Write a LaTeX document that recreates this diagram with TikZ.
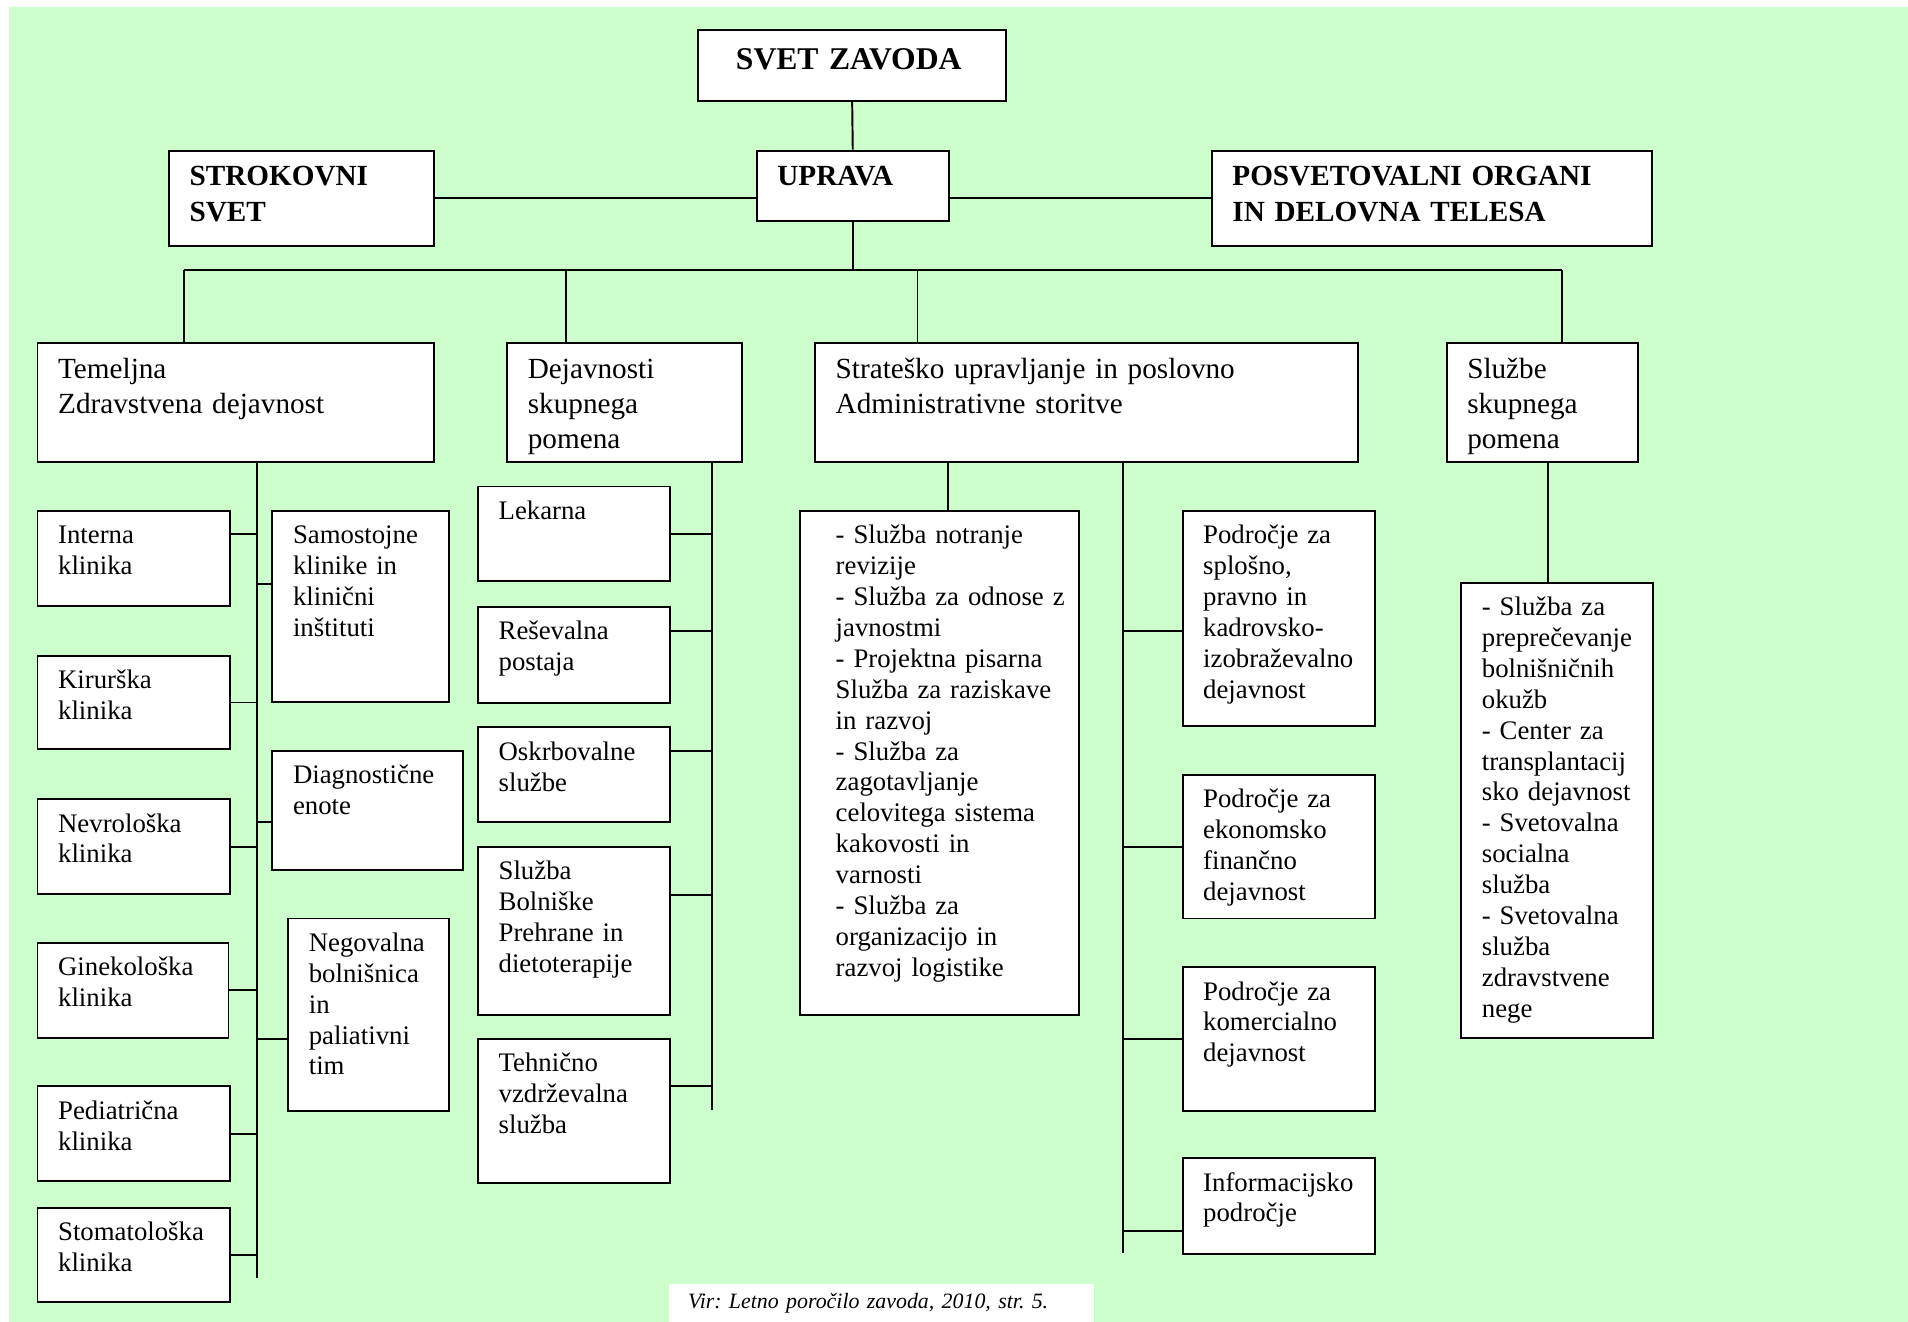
\documentclass[tikz,border=0pt]{standalone}
\usepackage{fontspec}
\setmainfont{Liberation Serif}
\usepackage{xcolor}
\usepackage{tikz}
\definecolor{bggreen}{HTML}{CCFFCC}
\tikzstyle{cell} = [rectangle, anchor=north west, draw=black, fill=white, line width=0.8pt, align=left, inner xsep=2pt, inner ysep=4.5pt, text height=9pt, font=\fontsize{11pt}{12.7pt}\selectfont, execute at begin node={\leftskip=6.5pt\relax\hyphenpenalty=10000\exhyphenpenalty=10000\relax}]
\tikzstyle{unit} = [cell, text height=10pt, font=\fontsize{12pt}{14.5pt}\selectfont]
\tikzstyle{head} = [unit, font=\fontsize{12pt}{14.5pt}\selectfont\bfseries]
\tikzstyle{source} = [rectangle, anchor=north west, fill=white, inner xsep=8pt, inner ysep=0pt, minimum height=15.5pt, text width=159pt, align=left, font=\fontsize{9pt}{10pt}\selectfont\itshape\frenchspacing]
\tikzstyle{conn} = [line width=0.8pt]

\begin{document}
\begin{tikzpicture}[x=0.5pt, y=-0.5pt]
    \useasboundingbox (0,0) rectangle (1568,1086);
    \fill [bggreen] (7,6) rectangle (1568,1086);
    \node (SvetZavoda) [head, text width=122.5pt, text height=11.5pt, text depth=8.5pt, font=\fontsize{13pt}{14.5pt}\selectfont\bfseries, execute at begin node={\leftskip=13.5pt}] at (573,24) {SVET ZAVODA};
    \node (StrokovniSvet) [head, text width=105pt, text depth=20pt] at (138,123) {STROKOVNI\\SVET};
    \node (Uprava) [head, text width=75pt, text depth=10pt] at (621,123) {UPRAVA};
    \node (Posvet) [head, text width=177pt, text depth=20pt] at (995,123) {POSVETOVALNI ORGANI\\IN DELOVNA TELESA};
    \node (Temeljna) [unit, text width=159pt, text depth=30pt] at (30,281) {Temeljna\\Zdravstvena dejavnost};
    \node (Dejavnosti) [unit, text width=92.5pt, text depth=30pt] at (416,281) {Dejavnosti\\skupnega\\pomena};
    \node (Strategija) [unit, text width=219pt, text depth=30pt] at (669,281) {Strateško upravljanje in poslovno\\Administrativne storitve};
    \node (Sluzbe) [unit, text width=74.5pt, text depth=30pt] at (1188,281) {Službe\\skupnega\\pomena};
    \node (Interna) [cell, text width=75pt, text depth=21pt] at (30,419) {Interna\\klinika};
    \node (Kirurska) [cell, text width=75pt, text depth=20.5pt] at (30,538) {Kirurška\\klinika};
    \node (Nevroloska) [cell, text width=75pt, text depth=21pt] at (30,656) {Nevrološka\\klinika};
    \node (Ginekoloska) [cell, text width=74.5pt, text depth=21pt] at (30,774) {Ginekološka\\klinika};
    \node (Pediatricna) [cell, text width=75pt, text depth=21pt] at (30,892) {Pediatrična\\klinika};
    \node (Stomatoloska) [cell, text width=75pt, text depth=20.5pt] at (30,992) {Stomatološka\\klinika};
    \node (Samostojne) [cell, text width=68.5pt, text depth=60.5pt] at (223,419) {Samostojne\\klinike in\\klinični\\inštituti};
    \node (Diagnosticne) [cell, text width=74.5pt, text depth=31pt] at (223,616) {Diagnostične\\enote};
    \node (Negovalna) [cell, text width=62pt, text depth=61pt] at (236,754) {Negovalna\\bolnišnica\\in\\paliativni\\tim};
    \node (Lekarna) [cell, text width=75pt, text depth=21pt] at (392,399) {Lekarna};
    \node (Resevalna) [cell, text width=75pt, text depth=21.5pt] at (392,498) {Reševalna\\postaja};
    \node (Oskrbovalne) [cell, text width=75pt, text depth=21pt] at (392,597) {Oskrbovalne\\službe};
    \node (Prehrana) [cell, text width=75pt, text depth=51pt] at (392,695) {Služba\\Bolniške\\Prehrane in\\dietoterapije};
    \node (Tehnicno) [cell, text width=75pt, text depth=41pt] at (392,853) {Tehnično\\vzdrževalna\\služba};
    \node (Notranje) [cell, text width=110.5pt, text depth=189pt, execute at begin node={\leftskip=12.5pt}] at (657,419) {- Služba notranje\\revizije\\- Služba za odnose z\\javnostmi\\- Projektna pisarna\\Služba za raziskave\\in razvoj\\- Služba za\\zagotavljanje\\celovitega sistema\\kakovosti in\\varnosti\\- Služba za\\organizacijo in\\razvoj logistike};
    \node (Splosno) [cell, text width=75pt, text depth=70.5pt] at (971,419) {Področje za\\splošno,\\pravno in\\kadrovsko-\\izobraževalno\\dejavnost};
    \node (Ekonomsko) [cell, text width=75pt, text depth=41pt] at (971,636) {Področje za\\ekonomsko\\finančno\\dejavnost};
    \node (Komercialno) [cell, text width=75pt, text depth=41pt] at (971,794) {Področje za\\komercialno\\dejavnost};
    \node (Informacijsko) [cell, text width=75pt, text depth=21.5pt] at (971,951) {Informacijsko\\področje};
    \node (Okuzbe) [cell, text width=75pt, text depth=169pt] at (1200,478) {- Služba za\\preprečevanje\\bolnišničnih\\okužb\\- Center za\\transplantacij\\sko dejavnost\\- Svetovalna\\socialna\\služba\\- Svetovalna\\služba\\zdravstvene\\nege};
    \node (Vir) [source] at (549,1055) {Vir: Letno poročilo zavoda, 2010, str. 5.};
    \coordinate (B1) at (151,222);
    \coordinate (B2) at (465,222);
    \coordinate (B3) at (754,222);
    \coordinate (B4) at (1284,222);
    \coordinate (T1) at (211,1050);
    \coordinate (T2) at (585,912);
    \coordinate (T3) at (923,1030);
    \coordinate (D1) at (779,379);
    \coordinate (D2) at (1272,379);
    \draw [conn] (SvetZavoda.south) -- (Uprava.north);
    \draw [conn] (StrokovniSvet.east) -- (StrokovniSvet.east -| Uprava.west);
    \draw [conn] (Posvet.west) -- (Posvet.west -| Uprava.east);
    \draw [conn] (Uprava.south) -- (Uprava.south |- B1);
    \draw [conn] (B1) -- (B4);
    \draw [conn] (B1) -- (B1 |- Temeljna.north);
    \draw [conn] (B2) -- (B2 |- Dejavnosti.north);
    \draw [conn] (B3) -- (B3 |- Strategija.north);
    \draw [conn] (B4) -- (B4 |- Sluzbe.north);
    \draw [conn] (T1 |- Temeljna.south) -- (T1);
    \draw [conn] ([yshift=10pt]Interna.east) -| (T1);
    \draw [conn] (Kirurska.east) -| (T1);
    \draw [conn] (Nevroloska.east) -| (T1);
    \draw [conn] (Ginekoloska.east) -| (T1);
    \draw [conn] (Pediatricna.east) -| (T1);
    \draw [conn] (Stomatoloska.east) -| (T1);
    \draw [conn] ([yshift=9.25pt]Samostojne.west) -| (T1);
    \draw [conn] ([yshift=-5pt]Diagnosticne.west) -| (T1);
    \draw [conn] ([yshift=-10pt]Negovalna.west) -| (T1);
    \draw [conn] (T2 |- Dejavnosti.south) -- (T2);
    \draw [conn] (Lekarna.east) -| (T2);
    \draw [conn] ([yshift=10pt]Resevalna.east) -| (T2);
    \draw [conn] ([yshift=10pt]Oskrbovalne.east) -| (T2);
    \draw [conn] ([yshift=14.5pt]Prehrana.east) -| (T2);
    \draw [conn] ([yshift=10pt]Tehnicno.east) -| (T2);
    \draw [conn] (D1) -- (D1 |- Notranje.north);
    \draw [conn] (T3 |- Strategija.south) -- (T3);
    \draw [conn] ([yshift=-5pt]Splosno.west) -| (T3);
    \draw [conn] (Ekonomsko.west) -| (T3);
    \draw [conn] (Komercialno.west) -| (T3);
    \draw [conn] ([yshift=-10pt]Informacijsko.west) -| (T3);
    \draw [conn] (D2) -- (D2 |- Okuzbe.north);
\end{tikzpicture}
\end{document}
